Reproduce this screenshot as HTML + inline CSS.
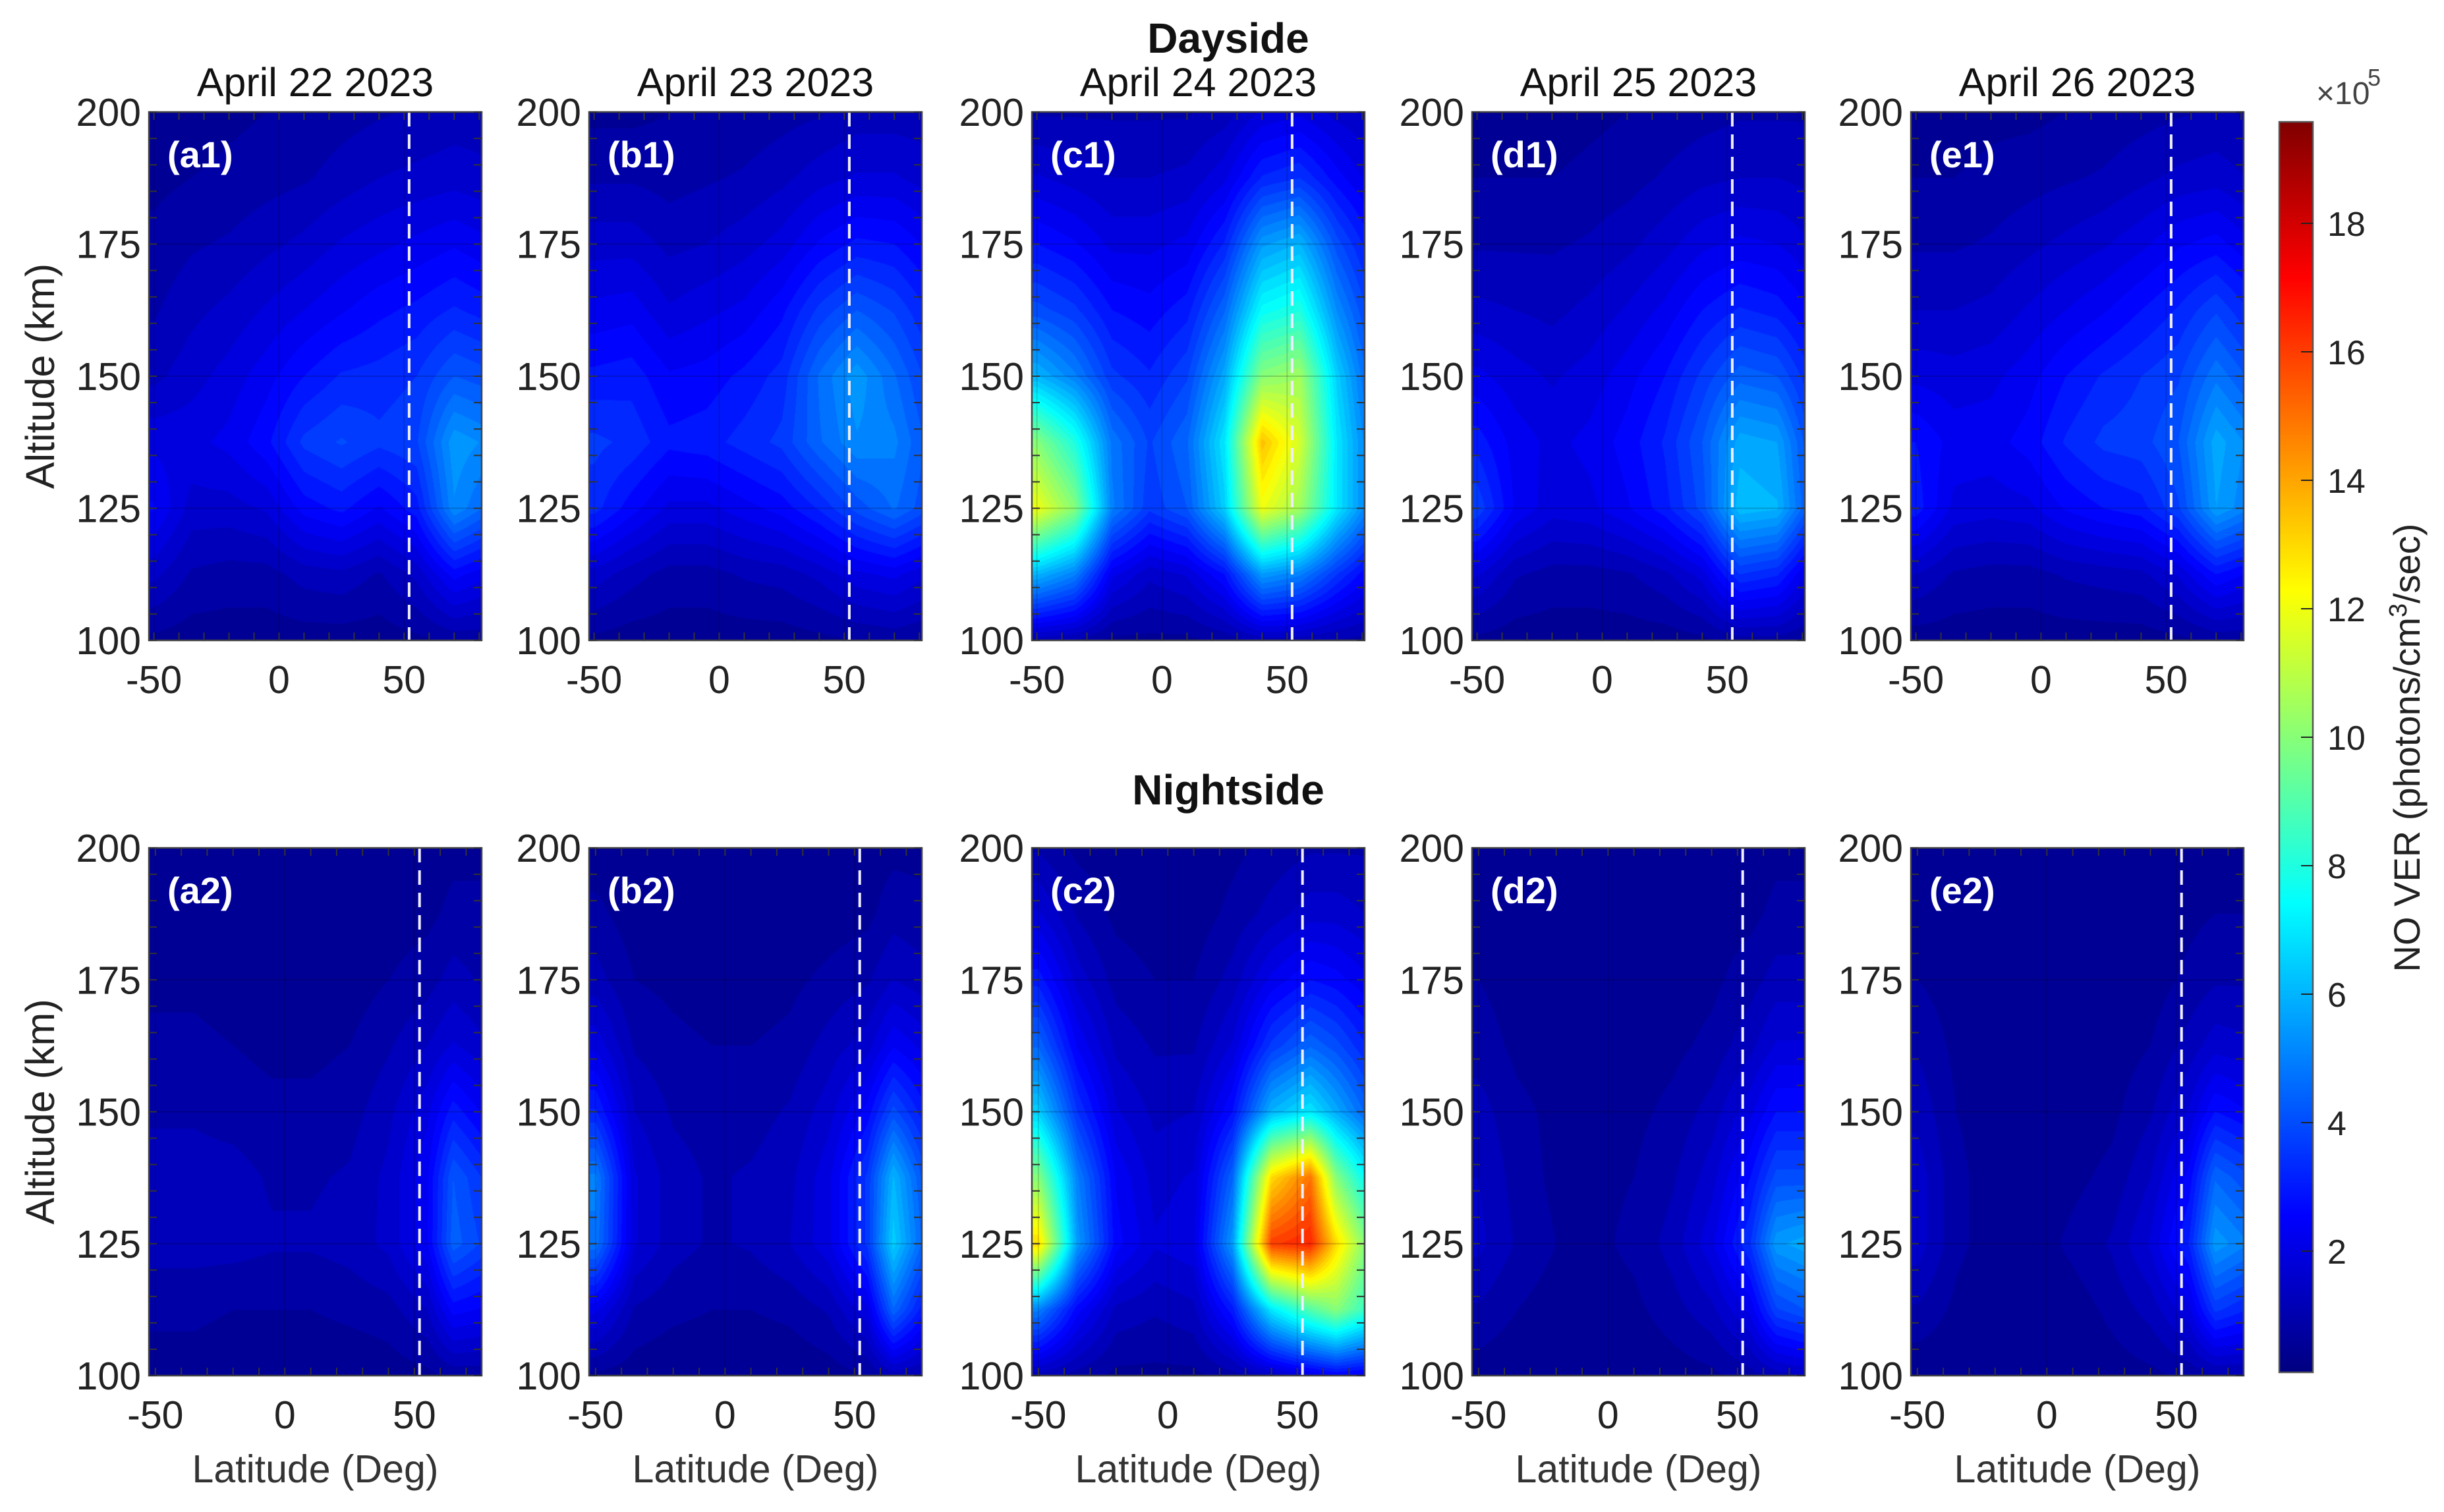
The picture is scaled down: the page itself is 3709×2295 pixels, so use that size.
<!DOCTYPE html>
<html><head><meta charset="utf-8">
<style>
html,body{margin:0;padding:0;background:#fff;}
#root{position:relative;width:3709px;height:2295px;overflow:hidden;background:#fff;font-family:"Liberation Sans",Arial,sans-serif;}
canvas{position:absolute;}
svg{position:absolute;left:0;top:0;}
</style></head>
<body>
<div id="root">
<svg id="ov" width="3709" height="2295"></svg>
</div>
<script>
// ---- data (units of 1e5 photons/cm3/sec) ----
const altNodes = [200,187.5,175,162.5,150,137.5,125,112.5,100];
const latNodesDay = [-50,-35,-20,-5,10,25,40,55,70,82];
const latNodesNight = [-50,-35,-20,-5,10,25,40,55,65,76];
const panelIds = ['a1','b1','c1','d1','e1','a2','b2','c2','d2','e2'];
const dateTitles = ['April 22 2023','April 23 2023','April 24 2023','April 25 2023','April 26 2023'];
const yTicks = [100,125,150,175,200];
const xTicks = [-50,0,50];
const cbTicks = [2,4,6,8,10,12,14,16,18];
const dashedLat = [52,52];
const gridA1 = [
[0.5,0.5,0.6,0.7,0.8,0.9,1.0,1.1,1.2,1.2],
[0.6,0.7,0.8,0.9,1.0,1.2,1.4,1.5,1.6,1.5],
[0.8,1.0,1.1,1.3,1.5,1.8,2.0,2.2,2.4,2.2],
[1.0,1.3,1.5,1.8,2.1,2.4,2.7,2.9,3.2,3.0],
[1.3,1.6,1.9,2.3,2.8,3.2,3.3,3.5,4.2,4.0],
[2.0,2.0,2.2,2.7,3.6,3.9,3.6,3.8,5.5,5.2],
[2.5,1.6,1.6,1.8,2.6,2.9,2.4,3.0,5.2,4.5],
[1.5,1.0,0.9,0.9,1.2,1.3,1.0,1.5,2.6,2.2],
[0.6,0.5,0.5,0.5,0.5,0.5,0.5,0.6,0.8,0.8]];
const gridB1 = [
[0.6,0.6,0.7,0.7,0.8,0.9,1.0,1.2,1.2,1.2],
[1.0,1.0,0.9,1.0,1.1,1.3,1.6,1.8,1.8,1.6],
[1.6,1.6,1.3,1.4,1.6,1.9,2.5,2.9,2.8,2.4],
[2.2,2.3,1.8,2.0,2.2,2.7,3.6,4.2,3.8,3.2],
[2.9,3.0,2.5,2.6,2.9,3.3,4.6,5.5,4.6,3.8],
[3.6,3.4,2.9,3.0,3.3,3.6,4.5,5.2,5.0,4.2],
[3.3,2.6,2.0,2.0,2.3,2.6,3.2,4.0,4.6,4.0],
[1.6,1.2,0.9,0.9,1.1,1.2,1.5,2.0,2.2,1.8],
[0.6,0.5,0.5,0.5,0.5,0.5,0.6,0.7,0.8,0.7]];
const gridC1 = [
[1.0,1.0,1.0,1.0,1.0,1.2,1.8,2.0,1.6,1.4],
[1.8,1.6,1.4,1.4,1.5,2.0,3.2,3.5,2.6,2.0],
[2.8,2.5,2.0,2.0,2.2,3.2,5.5,6.0,4.0,3.0],
[4.0,3.6,2.8,2.6,3.0,4.5,7.5,8.0,5.2,3.8],
[6.0,5.0,3.6,3.2,3.8,5.8,10.0,10.5,6.5,4.5],
[10.0,8.0,4.8,3.8,4.5,7.0,13.5,11.5,7.0,5.0],
[12.0,10.0,5.0,3.6,4.2,6.5,12.0,10.5,7.0,5.0],
[6.0,5.0,2.2,1.5,1.8,2.8,5.5,5.0,3.5,2.5],
[1.2,1.0,0.6,0.6,0.6,0.8,1.2,1.2,1.0,0.9]];
const gridD1 = [
[0.5,0.5,0.5,0.6,0.7,0.8,0.9,1.0,1.0,1.0],
[0.7,0.7,0.7,0.8,0.9,1.1,1.3,1.4,1.4,1.3],
[1.0,1.0,1.0,1.1,1.3,1.6,2.0,2.2,2.1,1.8],
[1.5,1.4,1.3,1.5,1.8,2.2,2.8,3.2,3.0,2.5],
[2.2,1.9,1.7,1.9,2.3,2.8,3.6,4.4,4.2,3.3],
[3.0,2.3,2.0,2.2,2.6,3.2,4.2,5.8,5.6,4.0],
[3.8,2.4,1.9,2.0,2.4,3.0,4.0,6.2,6.0,4.2],
[1.8,1.1,0.9,0.9,1.0,1.3,1.9,3.5,3.2,2.0],
[0.6,0.5,0.5,0.5,0.5,0.5,0.6,0.9,0.9,0.7]];
const gridE1 = [
[0.5,0.5,0.6,0.6,0.7,0.8,0.9,1.0,1.1,1.0],
[0.7,0.7,0.8,0.9,1.0,1.1,1.3,1.5,1.6,1.4],
[1.0,1.0,1.1,1.3,1.5,1.7,2.0,2.4,2.6,2.2],
[1.4,1.4,1.5,1.8,2.1,2.4,2.8,3.2,3.8,3.2],
[2.0,1.9,2.0,2.3,2.8,3.2,3.5,3.8,4.8,4.2],
[2.8,2.3,2.3,2.6,3.2,3.6,3.7,4.2,5.8,5.2],
[3.0,2.0,1.9,2.0,2.5,2.8,3.0,3.8,5.6,5.0],
[1.4,1.0,0.9,0.9,1.1,1.2,1.3,1.8,2.8,2.4],
[0.5,0.5,0.5,0.5,0.5,0.5,0.5,0.6,0.8,0.8]];
const gridA2 = [
[0.4,0.4,0.4,0.4,0.4,0.4,0.4,0.5,0.6,0.6],
[0.5,0.5,0.5,0.4,0.4,0.4,0.5,0.6,0.8,0.8],
[0.6,0.6,0.5,0.5,0.5,0.5,0.7,0.9,1.2,1.0],
[0.8,0.8,0.7,0.6,0.6,0.7,1.0,1.4,1.8,1.5],
[1.0,1.0,0.9,0.8,0.8,0.9,1.3,2.0,3.0,2.4],
[1.2,1.2,1.2,1.0,1.0,1.1,1.5,2.4,4.2,3.5],
[1.2,1.2,1.2,1.1,1.1,1.2,1.5,2.4,4.4,3.8],
[0.8,0.8,0.7,0.7,0.7,0.8,0.9,1.4,2.6,2.4],
[0.5,0.5,0.4,0.4,0.4,0.4,0.5,0.6,0.8,0.8]];
const gridB2 = [
[0.5,0.4,0.4,0.4,0.4,0.4,0.4,0.5,0.6,0.6],
[0.8,0.5,0.4,0.4,0.4,0.4,0.5,0.6,0.9,0.8],
[1.2,0.7,0.6,0.5,0.5,0.6,0.8,1.0,1.4,1.2],
[2.0,1.0,0.8,0.7,0.7,0.8,1.2,1.6,2.4,2.0],
[3.2,1.4,1.0,0.9,0.9,1.1,1.6,2.6,4.0,3.0],
[5.0,1.8,1.2,1.0,1.1,1.3,2.0,3.6,6.0,4.2],
[4.8,1.8,1.2,1.0,1.1,1.4,2.0,3.6,6.5,4.5],
[2.2,1.0,0.8,0.7,0.7,0.8,1.1,2.0,4.5,3.0],
[0.6,0.5,0.4,0.4,0.4,0.4,0.5,0.7,1.2,1.0]];
const gridC2 = [
[1.0,0.6,0.5,0.5,0.5,0.6,0.8,1.0,1.0,1.0],
[1.8,1.0,0.6,0.5,0.5,0.8,1.2,1.6,1.6,1.4],
[3.0,1.6,0.9,0.7,0.7,1.2,2.2,2.8,2.6,2.2],
[4.5,2.4,1.3,1.0,1.0,1.8,3.6,4.5,4.0,3.2],
[6.5,3.5,1.8,1.3,1.4,2.8,6.0,7.0,5.8,4.5],
[10.0,5.0,2.4,1.6,1.8,4.5,13.0,15.0,10.0,7.5],
[13.0,5.5,2.6,1.8,2.0,5.5,16.0,16.5,13.0,10.0],
[5.0,2.6,1.3,1.1,1.3,3.0,7.0,9.0,10.0,8.5],
[1.2,0.9,0.6,0.6,0.6,0.9,1.4,2.0,2.4,2.2]];
const gridD2 = [
[0.4,0.4,0.4,0.4,0.4,0.4,0.4,0.5,0.6,0.6],
[0.5,0.4,0.4,0.4,0.4,0.4,0.5,0.6,0.8,0.8],
[0.7,0.5,0.4,0.4,0.4,0.5,0.6,0.9,1.2,1.2],
[0.9,0.6,0.5,0.4,0.5,0.6,0.8,1.3,1.8,1.8],
[1.2,0.8,0.6,0.5,0.6,0.8,1.2,2.0,2.8,2.8],
[1.4,0.9,0.6,0.6,0.7,1.0,1.6,2.8,4.0,4.0],
[1.5,1.0,0.7,0.6,0.8,1.2,2.0,3.5,5.5,5.8],
[1.0,0.7,0.5,0.5,0.6,0.9,1.3,2.2,3.8,4.2],
[0.5,0.4,0.4,0.4,0.4,0.5,0.6,0.9,1.2,1.4]];
const gridE2 = [
[0.4,0.4,0.4,0.4,0.4,0.4,0.4,0.5,0.5,0.5],
[0.5,0.4,0.4,0.4,0.4,0.4,0.4,0.6,0.7,0.7],
[0.7,0.5,0.4,0.4,0.4,0.4,0.5,0.8,1.0,1.0],
[1.0,0.6,0.4,0.4,0.4,0.5,0.7,1.2,1.6,1.5],
[1.3,0.7,0.5,0.4,0.5,0.6,1.0,1.8,2.8,2.5],
[1.6,0.8,0.5,0.4,0.6,0.8,1.4,2.6,4.5,4.0],
[1.6,0.8,0.5,0.5,0.8,1.1,1.8,3.2,5.5,5.0],
[1.0,0.6,0.4,0.4,0.5,0.8,1.2,2.0,3.6,3.2],
[0.4,0.4,0.4,0.4,0.4,0.5,0.6,0.8,1.0,1.0]];
const grids = [gridA1,gridB1,gridC1,gridD1,gridE1,gridA2,gridB2,gridC2,gridD2,gridE2];

// ---- layout ----
const colX = [226,894,1566,2234,2900];
const PW = 505;
const rowY = [[170,972],[1287,2088]];
const xlim = [[-52,81],[-52.5,76]];
const ylim = [100,200];
const cmin = 0.11, cmax = 19.6;
const CB = {x:3459, w:51, top:185, bot:2083};

function jet(t){
  t=Math.max(0,Math.min(1,t));
  const f=(x)=>Math.max(0,Math.min(1,1.5-Math.abs(4*t-x)));
  return [f(3)*255,f(2)*255,f(1)*255];
}
function interp(nodes, v){
  const n=nodes.length;
  const asc = nodes[n-1]>nodes[0];
  for(let i=0;i<n-1;i++){
    const a=nodes[i],b=nodes[i+1];
    const lo=Math.min(a,b),hi=Math.max(a,b);
    if(v>=lo&&v<=hi){return [i,(v-a)/(b-a)];}
  }
  if(asc) return v<nodes[0]?[0,0]:[n-2,1];
  return v>nodes[0]?[0,0]:[n-2,1];
}
const root=document.getElementById('root');
const svg=document.getElementById('ov');
const NS='http://www.w3.org/2000/svg';
function el(tag,attrs,txt){const e=document.createElementNS(NS,tag);for(const k in attrs)e.setAttribute(k,attrs[k]);if(txt!==undefined)e.textContent=txt;svg.appendChild(e);return e;}

for(let p=0;p<10;p++){
  const row=p<5?0:1, col=p%5;
  const x0=colX[col], y0=rowY[row][0], y1=rowY[row][1], H=y1-y0;
  const lat=row===0?latNodesDay:latNodesNight;
  const xl=xlim[row];
  const xs=(v)=>x0+(v-xl[0])/(xl[1]-xl[0])*PW;
  const ys=(v)=>y1-(v-ylim[0])/(ylim[1]-ylim[0])*H;
  const cv=document.createElement('canvas');
  cv.width=PW;cv.height=H;cv.style.left=x0+'px';cv.style.top=y0+'px';
  
  
  root.insertBefore(cv,svg);
  const ctx=cv.getContext('2d');const img=ctx.createImageData(PW,H);
  const g=grids[p];
  const colI=[];
  for(let i=0;i<PW;i++){const la=xl[0]+(i+0.5)/PW*(xl[1]-xl[0]);colI.push(interp(lat,la));}
  for(let j=0;j<H;j++){
    const al=ylim[1]-(j+0.5)/H*(ylim[1]-ylim[0]);
    const [ri,rt]=interp(altNodes,al);
    for(let i=0;i<PW;i++){
      const [ci,ct]=colI[i];
      const v00=g[ri][ci],v01=g[ri][ci+1],v10=g[ri+1][ci],v11=g[ri+1][ci+1];
      let v=(v00*(1-ct)+v01*ct)*(1-rt)+(v10*(1-ct)+v11*ct)*rt;
      v=Math.floor(v/0.35)*0.35+0.17;
      const c=jet((v-cmin)/(cmax-cmin));
      const k=(j*PW+i)*4;img.data[k]=c[0];img.data[k+1]=c[1];img.data[k+2]=c[2];img.data[k+3]=255;
    }
  }
  ctx.putImageData(img,0,0);
  for(const t of yTicks){el('line',{x1:x0,x2:x0+PW,y1:ys(t),y2:ys(t),stroke:'rgba(0,0,0,0.18)','stroke-width':2,});}
  for(const t of xTicks){el('line',{x1:xs(t),x2:xs(t),y1:y0,y2:y1,stroke:'rgba(0,0,0,0.15)','stroke-width':2,});}
  const dx=xs(dashedLat[row]);
  el('line',{x1:dx,x2:dx,y1:y0,y2:y1,stroke:'#eeeeff','stroke-width':4,'stroke-dasharray':'22,12',});
  el('rect',{x:x0,y:y0,width:PW,height:H,fill:'none',stroke:'#444','stroke-width':2.5,});
  for(let a=100;a<=200;a+=5){
    el('line',{x1:x0,x2:x0+12,y1:ys(a),y2:ys(a),stroke:'#333','stroke-width':2,});
    el('line',{x1:x0+PW,x2:x0+PW-12,y1:ys(a),y2:ys(a),stroke:'#333','stroke-width':2,});
  }
  for(let a=-50;a<=80;a+=10){ if(a<xl[0]||a>xl[1])continue;
    el('line',{x1:xs(a),x2:xs(a),y1:y1,y2:y1-12,stroke:'#333','stroke-width':2,});
    el('line',{x1:xs(a),x2:xs(a),y1:y0,y2:y0+12,stroke:'#333','stroke-width':2,});
  }
  for(const t of yTicks){el('text',{x:x0-12,y:ys(t)+21,'text-anchor':'end','font-size':59,fill:'#222',},String(t));}
  for(const t of xTicks){el('text',{x:xs(t),y:y1+80,'text-anchor':'middle','font-size':59,fill:'#222',},String(t));}
  el('text',{x:x0+28,y:y0+84,'font-size':56,'font-weight':'bold',fill:'#fff',},'('+panelIds[p]+')');
  if(row===0){el('text',{x:x0+PW/2,y:146,'text-anchor':'middle','font-size':61,fill:'#111',},dateTitles[col]);}
  if(row===1){el('text',{x:x0+PW/2,y:2250,'text-anchor':'middle','font-size':59,fill:'#333',},'Latitude (Deg)');}
  if(col===0){const cy=(y0+y1)/2;el('text',{x:82,y:cy,'text-anchor':'middle','font-size':61,fill:'#222',transform:'rotate(-90 82 '+cy+')',},'Altitude (km)');}
}
el('text',{x:1864,y:80,'text-anchor':'middle','font-size':64,'font-weight':'bold',fill:'#111',},'Dayside');
el('text',{x:1864,y:1221,'text-anchor':'middle','font-size':64,'font-weight':'bold',fill:'#111',},'Nightside');

const cbv=(v)=>2094-v*97.5;
const cc=document.createElement('canvas');
cc.width=CB.w;cc.height=CB.bot-CB.top;cc.style.left=CB.x+'px';cc.style.top=CB.top+'px';


root.insertBefore(cc,svg);
const cx=cc.getContext('2d');
for(let j=0;j<cc.height;j++){const v=(2094-(CB.top+j))/97.5;const c=jet((v-cmin)/(cmax-cmin));cx.fillStyle='rgb('+c.map(Math.round).join(',')+')';cx.fillRect(0,j,CB.w,1);}
el('rect',{x:CB.x,y:CB.top,width:CB.w,height:CB.bot-CB.top,fill:'none',stroke:'#555','stroke-width':2.5,});
for(const t of cbTicks){
  el('line',{x1:CB.x+CB.w-18,x2:CB.x+CB.w,y1:cbv(t),y2:cbv(t),stroke:'#222','stroke-width':2,});
  el('text',{x:3532,y:cbv(t)+19,'font-size':52,fill:'#222',},String(t));
}
el('text',{x:3515,y:158,'font-size':48,fill:'#444',},'×10');
el('text',{x:3593,y:130,'font-size':36,fill:'#444',},'5');
const lt=el('text',{x:3672,y:1135,'text-anchor':'middle','font-size':56,fill:'#222',transform:'rotate(-90 3672 1135)',});
lt.innerHTML='NO VER (photons/cm<tspan dy="-20" font-size="38">3</tspan><tspan dy="20">/sec)</tspan>';
</script>
</body></html>
